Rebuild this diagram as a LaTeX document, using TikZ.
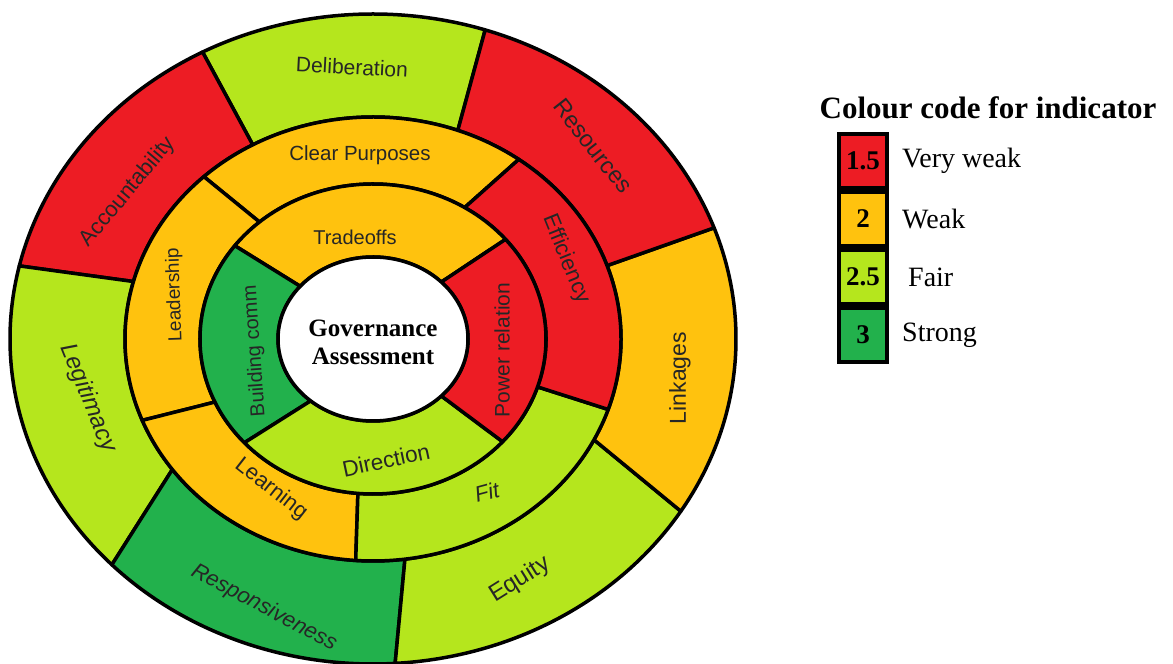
\documentclass[tikz,border=0pt]{standalone}
\usepackage{fontspec}
\setmainfont{Liberation Serif}
\setsansfont{Liberation Sans}
\usetikzlibrary{positioning}

\definecolor{vweak}{RGB}{237,28,36}
\definecolor{weak}{RGB}{255,194,14}
\definecolor{fair}{RGB}{181,230,29}
\definecolor{strong}{RGB}{34,177,76}

\tikzset{
  ringline/.style={draw=black, line width=3.5, line join=round},
  seglabel/.style={font=\sffamily\fontsize{#1}{#1}\selectfont, text=black!85},
  seglabel/.default=20,
  itlabel/.style={seglabel, font=\sffamily\itshape\fontsize{#1}{#1}\selectfont},
  itlabel/.default=20,
  keybox/.style={draw=black, line width=4, minimum width=48, minimum height=54,
                 inner sep=0, font=\bfseries\fontsize{27}{29}\selectfont},
  keytext/.style={font=\fontsize{28}{30}\selectfont, inner sep=0}
}

% ring part: inner x/y radius, outer x/y radius,
% outer from/to, inner from/to, colour
\newcommand{\ringpart}[9]{%
  \filldraw[ringline, fill=#9] (#5:#3 and #4)
    arc[start angle=#5, end angle=#6, x radius=#3pt, y radius=#4pt]
    -- (#8:#1 and #2)
    arc[start angle=#8, end angle=#7, x radius=#1pt, y radius=#2pt] -- cycle;}

\begin{document}
\begin{tikzpicture}[x=1pt, y=1pt]
    \useasboundingbox (0,0) rectangle (1173,664);

    % wheel
    \begin{scope}[shift={(373,325)}]
        \foreach \a/\b/\c/\d/\col in {72/118/70/119/fair, 118/167/119/165/vweak,
                167/224/165/216/fair, 224/273.5/216/277.4/strong,
                273.5/328/277.4/333/fair, 328/380/333/379.3/weak,
                380/432/379.3/430/vweak}
            \ringpart{248}{222}{363}{325}{\a}{\b}{\c}{\d}{\col};
        \foreach \a/\b/\c/\d/\col in {54/133/58/131/weak, 133/201.5/131/204/weak,
                201.5/266/204/265/weak, 266/341.5/265/342/fair,
                341.5/414/342/418/vweak}
            \ringpart{173}{155}{248}{222}{\a}{\b}{\c}{\d}{\col};
        \foreach \a/\b/\c/\d/\col in {40/143/44/140/weak, 143/222/140/229/strong,
                222/318.5/229/316/fair, 318.5/400/316/404/vweak}
            \ringpart{95}{82}{173}{155}{\a}{\b}{\c}{\d}{\col};
        \filldraw[ringline, fill=white] (0,0) ellipse[x radius=95pt, y radius=82pt];
    \end{scope}

    % outer ring
    \node (delib) [seglabel=21, rotate=-3] at (352,597) {Deliberation};
    \node (resour) [seglabel=23.5, rotate=-52] at (593,518) {Resources};
    \node (account) [seglabel=22, rotate=50] at (128,472) {Accountability};
    \node (link) [seglabel=23, rotate=90] at (680,286) {Linkages};
    \node (legit) [itlabel=24, rotate=-68] at (88,266) {Legitimacy};
    \node (respons) [itlabel=22, rotate=-28] at (264,56) {Responsiveness};
    \node (equity) [seglabel=24, rotate=32] at (520,84) {Equity};

    % middle ring
    \node (purpose) [seglabel=20.5] at (360,509) {Clear Purposes};
    \node (lead) [seglabel=19, rotate=92] at (175,369) {Leadership};
    \node (effic) [seglabel=22, rotate=-68] at (566,405) {Efficiency};
    \node (learn) [seglabel=22, rotate=-38] at (271,175) {Learning};
    \node (fit) [itlabel=22, rotate=15] at (487,172) {Fit};

    % inner ring
    \node (trade) [seglabel] at (355,427) {Tradeoffs};
    \node (build) [seglabel, rotate=94] at (255,313) {Building comm};
    \node (power) [seglabel=21, rotate=90] at (502,314) {Power relation};
    \node (direct) [seglabel=22.5, rotate=12] at (386,204) {Direction};
    \node (gov) [font=\bfseries\fontsize{25}{28}\selectfont, align=center]
        at (373,322) {Governance\\Assessment};

    % colour code
    \node (title) [font=\bfseries\fontsize{31}{33}\selectfont] at (988,556)
        {Colour code for indicator};
    \node (vw) [keybox, fill=vweak, anchor=north west] at (837,532) {1.5};
    \node (wk) [keybox, fill=weak, below=0pt of vw] {2};
    \node (fr) [keybox, fill=fair, below=0pt of wk] {2.5};
    \node (st) [keybox, fill=strong, below=0pt of fr] {3};
    \node (vwtext) [keytext, right=13pt of vw] {Very weak};
    \node (wktext) [keytext, right=13pt of wk] {Weak};
    \node (frtext) [keytext, right=19pt of fr] {Fair};
    \node (sttext) [keytext, right=13pt of st] {Strong};
\end{tikzpicture}
\end{document}
